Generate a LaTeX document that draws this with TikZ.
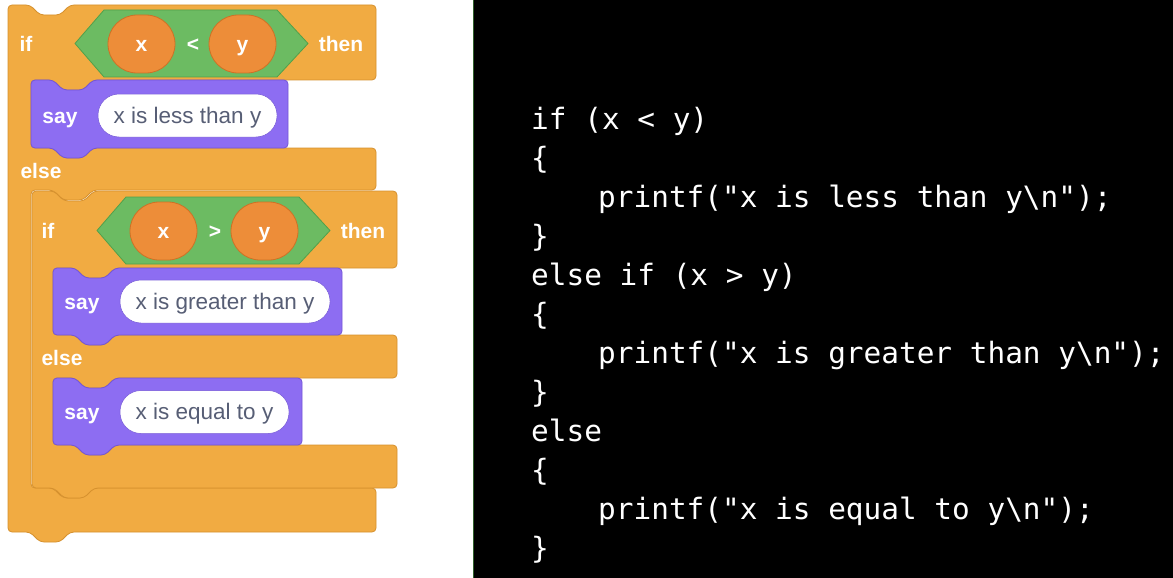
\documentclass[tikz,border=0pt]{standalone}
\usepackage{fontspec}
\newfontfamily\blockfont{Liberation Sans}
\setmonofont{DejaVu Sans Mono}

\definecolor{ctrlfill}{RGB}{241,171,66}
\definecolor{ctrlline}{RGB}{214,145,46}
\definecolor{looksfill}{RGB}{141,109,242}
\definecolor{looksline}{RGB}{116,86,214}
\definecolor{opfill}{RGB}{108,187,98}
\definecolor{opline}{RGB}{82,160,74}
\definecolor{varfill}{RGB}{237,141,57}
\definecolor{varline}{RGB}{205,114,38}
\definecolor{msgtext}{RGB}{87,94,117}

% if/else block: left, top, right, inner wall, arm1 bottom, else top, else bottom, arm3 top, bottom
\newcommand{\ifelseblock}[9]{%
\draw[ctrl] (#1,#2) -- ({#1+22},#2) -- ({#1+32},{#2+10}) -- ({#1+52},{#2+10}) -- ({#1+62},#2) -- (#3,#2) -- (#3,#5)
  -- ({#4+62},#5) -- ({#4+52},{#5+10}) -- ({#4+32},{#5+10}) -- ({#4+22},#5) -- (#4,#5)
  -- (#4,#6) -- ({#4+22},#6) -- ({#4+32},{#6+10}) -- ({#4+52},{#6+10}) -- ({#4+62},#6) -- (#3,#6) -- (#3,#7)
  -- ({#4+62},#7) -- ({#4+52},{#7+10}) -- ({#4+32},{#7+10}) -- ({#4+22},#7) -- (#4,#7)
  -- (#4,#8) -- ({#4+22},#8) -- ({#4+32},{#8+10}) -- ({#4+52},{#8+10}) -- ({#4+62},#8) -- (#3,#8) -- (#3,#9)
  -- ({#1+62},#9) -- ({#1+52},{#9+10}) -- ({#1+32},{#9+10}) -- ({#1+22},#9) -- (#1,#9) -- cycle;}

% say block: left, top, right, bottom
\newcommand{\sayblock}[4]{%
\draw[looks] (#1,#2) -- ({#1+22},#2) -- ({#1+32},{#2+10}) -- ({#1+52},{#2+10}) -- ({#1+62},#2) -- (#3,#2)
  -- (#3,#4) -- ({#1+62},#4) -- ({#1+52},{#4+10}) -- ({#1+32},{#4+10}) -- ({#1+22},#4) -- (#1,#4) -- cycle;}

\begin{document}
\begin{tikzpicture}[x=1pt,y=-1pt,
  ctrl/.style={fill=ctrlfill,draw=ctrlline,line width=0.8pt,rounded corners=4pt},
  looks/.style={fill=looksfill,draw=looksline,line width=0.8pt,rounded corners=4pt},
  cond/.style={fill=opfill,draw=opline,line width=0.8pt,line join=round},
  lbl/.style={text=white,inner sep=0pt,text height=15pt,text depth=0pt,
    font=\blockfont\bfseries\fontsize{21}{24}\selectfont},
  var/.style={lbl,fill=varfill,draw=varline,line width=0.8pt,minimum width=67pt,
    minimum height=58pt,rounded corners=29pt},
  msg/.style={fill=white,draw=looksline,line width=0.5pt,text=msgtext,inner sep=0pt,
    minimum height=43pt,rounded corners=21pt,text height=15pt,text depth=0pt,
    font=\blockfont\fontsize{22.5}{26}\selectfont},
  code/.style={anchor=base west,inner sep=0pt,text=white,
    font=\ttfamily\fontsize{29.4}{39}\selectfont}]

\useasboundingbox (0,0) rectangle (1173,578);
\fill[white] (0,0) rectangle (473,578);
\fill[black] (473,0) rectangle (1173,578);
\draw[opline!60!black,line width=1pt] (473.5,0) -- (473.5,578);

% scratch blocks
\ifelseblock{8}{5}{376}{31}{80}{148}{190}{488}{532}
\sayblock{31}{80}{288}{148}
\ifelseblock{32}{191}{397}{53}{268}{335}{378}{445}{488}
\sayblock{53}{268}{342}{335}
\sayblock{53}{378}{302}{445}

\draw[cond] (75,43.5) -- (104,10) -- (277,10) -- (308,43.5) -- (277,77) -- (104,77) -- cycle;
\draw[cond,shift={(22,187)}] (75,43.5) -- (104,10) -- (277,10) -- (308,43.5) -- (277,77) -- (104,77) -- cycle;

\node[lbl] (if1) at (26,44) {if};
\node[var] (x1) at (141.5,44) {x};
\node[lbl] (lt1) at (193,44) {<};
\node[var] (y1) at (242.5,44) {y};
\node[lbl] (then1) at (341,44) {then};
\node[lbl] (say1) at (60,116) {say};
\node[msg,minimum width=179pt] (msg1) at (187.5,115.5) {x is less than y};
\node[lbl] (else1) at (41,171) {else};

\node[lbl] (if2) at (48,231) {if};
\node[var] (x2) at (163.5,231) {x};
\node[lbl] (gt2) at (215,231) {>};
\node[var] (y2) at (264.5,231) {y};
\node[lbl] (then2) at (363,231) {then};
\node[lbl] (say2) at (82,302) {say};
\node[msg,minimum width=210pt] (msg2) at (225,301.5) {x is greater than y};
\node[lbl] (else2) at (62,358) {else};
\node[lbl] (say3) at (82,412) {say};
\node[msg,minimum width=169pt] (msg3) at (204.5,412) {x is equal to y};

% C code
\node[code] (c1) at (531,129) {if (x < y)};
\node[code] (c2) at (531,168) {\{};
\node[code] (c3) at (598,207) {printf("x is less than y\textbackslash n");};
\node[code] (c4) at (531,246) {\}};
\node[code] (c5) at (531,285) {else if (x > y)};
\node[code] (c6) at (531,324) {\{};
\node[code] (c7) at (598,363) {printf("x is greater than y\textbackslash n");};
\node[code] (c8) at (531,402) {\}};
\node[code] (c9) at (531,441) {else};
\node[code] (c10) at (531,480) {\{};
\node[code] (c11) at (598,519) {printf("x is equal to y\textbackslash n");};
\node[code] (c12) at (531,558) {\}};

\end{tikzpicture}
\end{document}
